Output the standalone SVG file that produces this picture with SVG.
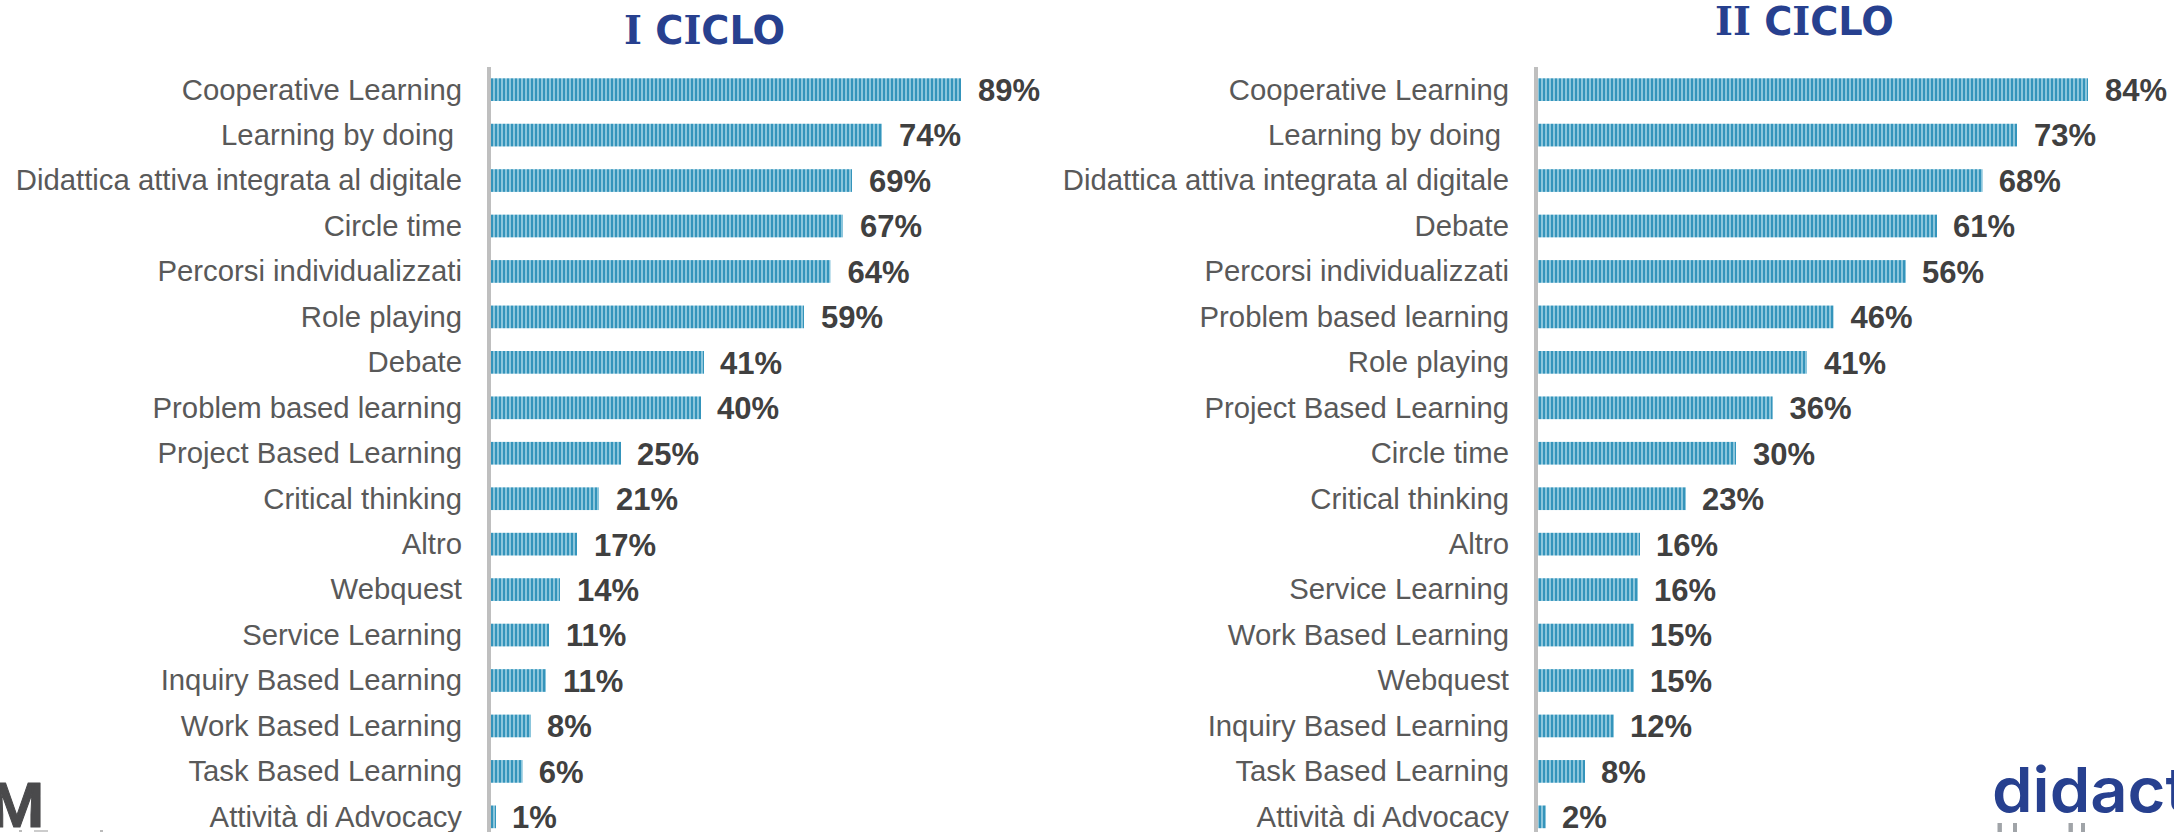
<svg xmlns="http://www.w3.org/2000/svg" width="2174" height="832" viewBox="0 0 2174 832">
<style>
text{font-family:"Liberation Sans",Arial,sans-serif}
.l{font-size:29.3px;fill:#595959;text-anchor:end;transform:translateY(1px)}
.v{font-size:31px;font-weight:700;fill:#404040}
.t{font-family:"DejaVu Sans",sans-serif;font-size:38.3px;font-weight:700;fill:#27408f}
.s{font-family:"DejaVu Serif",serif}
.ax{fill:#bfbfbf}
.b{fill:url(#st);height:22.7px}
</style>
<defs>
<pattern id="st" patternUnits="userSpaceOnUse" x="491" y="0" width="4" height="10">
<rect width="4" height="10" fill="#8cc6dc"/>
<rect width="2" height="10" fill="#3494bb"/>
</pattern>
</defs>
<rect width="2174" height="832" fill="#fff"/>
<g id="title-1"><text class="t" x="624" y="44"><tspan class="s">I</tspan> C<tspan class="s">I</tspan>CLO</text></g>
<g id="title-2"><text class="t" x="1715" y="35"><tspan class="s">II</tspan> C<tspan class="s">I</tspan>CLO</text></g>
<rect id="axis-1" class="ax" x="487" y="67" width="4" height="765"/>
<rect id="axis-2" class="ax" x="1534" y="67" width="4" height="765"/>
<g id="chart-1">
<g id="a0"><text class="l" x="462" y="98.5">Cooperative Learning</text><rect class="b" x="491" y="78.3" width="470"/><text class="v" x="978" y="101">89%</text></g>
<g id="a1"><text class="l" x="454" y="143.95">Learning by doing</text><rect class="b" x="491" y="123.75" width="391"/><text class="v" x="899" y="146.45">74%</text></g>
<g id="a2"><text class="l" x="462" y="189.4">Didattica attiva integrata al digitale</text><rect class="b" x="491" y="169.2" width="361"/><text class="v" x="869" y="191.9">69%</text></g>
<g id="a3"><text class="l" x="462" y="234.85">Circle time</text><rect class="b" x="491" y="214.65" width="352"/><text class="v" x="860" y="237.35">67%</text></g>
<g id="a4"><text class="l" x="462" y="280.3">Percorsi individualizzati</text><rect class="b" x="491" y="260.1" width="339.5"/><text class="v" x="847.5" y="282.8">64%</text></g>
<g id="a5"><text class="l" x="462" y="325.75">Role playing</text><rect class="b" x="491" y="305.55" width="313"/><text class="v" x="821" y="328.25">59%</text></g>
<g id="a6"><text class="l" x="462" y="371.2">Debate</text><rect class="b" x="491" y="351" width="213"/><text class="v" x="720" y="373.7">41%</text></g>
<g id="a7"><text class="l" x="462" y="416.65">Problem based learning</text><rect class="b" x="491" y="396.45" width="210"/><text class="v" x="717" y="419.15">40%</text></g>
<g id="a8"><text class="l" x="462" y="462.1">Project Based Learning</text><rect class="b" x="491" y="441.9" width="130"/><text class="v" x="637" y="464.6">25%</text></g>
<g id="a9"><text class="l" x="462" y="507.55">Critical thinking</text><rect class="b" x="491" y="487.35" width="108"/><text class="v" x="616" y="510.05">21%</text></g>
<g id="a10"><text class="l" x="462" y="553">Altro</text><rect class="b" x="491" y="532.8" width="86"/><text class="v" x="594" y="555.5">17%</text></g>
<g id="a11"><text class="l" x="462" y="598.45">Webquest</text><rect class="b" x="491" y="578.25" width="69"/><text class="v" x="577" y="600.95">14%</text></g>
<g id="a12"><text class="l" x="462" y="643.9">Service Learning</text><rect class="b" x="491" y="623.7" width="58"/><text class="v" x="566" y="646.4">11%</text></g>
<g id="a13"><text class="l" x="462" y="689.35">Inquiry Based Learning</text><rect class="b" x="491" y="669.15" width="55"/><text class="v" x="563" y="691.85">11%</text></g>
<g id="a14"><text class="l" x="462" y="734.8">Work Based Learning</text><rect class="b" x="491" y="714.6" width="40"/><text class="v" x="547" y="737.3">8%</text></g>
<g id="a15"><text class="l" x="462" y="780.25">Task Based Learning</text><rect class="b" x="491" y="760.05" width="31.7"/><text class="v" x="538.7" y="782.75">6%</text></g>
<g id="a16"><text class="l" x="462" y="825.7">Attività di Advocacy</text><rect class="b" x="491" y="805.5" width="5"/><text class="v" x="512" y="828.2">1%</text></g>
</g>
<g id="chart-2">
<g id="c0"><text class="l" x="1509" y="98.5">Cooperative Learning</text><rect class="b" x="1538" y="78.3" width="550"/><text class="v" x="2105" y="101">84%</text></g>
<g id="c1"><text class="l" x="1501" y="143.95">Learning by doing</text><rect class="b" x="1538" y="123.75" width="479"/><text class="v" x="2034" y="146.45">73%</text></g>
<g id="c2"><text class="l" x="1509" y="189.4">Didattica attiva integrata al digitale</text><rect class="b" x="1538" y="169.2" width="444.7"/><text class="v" x="1998.7" y="191.9">68%</text></g>
<g id="c3"><text class="l" x="1509" y="234.85">Debate</text><rect class="b" x="1538" y="214.65" width="399"/><text class="v" x="1953" y="237.35">61%</text></g>
<g id="c4"><text class="l" x="1509" y="280.3">Percorsi individualizzati</text><rect class="b" x="1538" y="260.1" width="368"/><text class="v" x="1922" y="282.8">56%</text></g>
<g id="c5"><text class="l" x="1509" y="325.75">Problem based learning</text><rect class="b" x="1538" y="305.55" width="295.6"/><text class="v" x="1850.6" y="328.25">46%</text></g>
<g id="c6"><text class="l" x="1509" y="371.2">Role playing</text><rect class="b" x="1538" y="351" width="269"/><text class="v" x="1824" y="373.7">41%</text></g>
<g id="c7"><text class="l" x="1509" y="416.65">Project Based Learning</text><rect class="b" x="1538" y="396.45" width="234.6"/><text class="v" x="1789.6" y="419.15">36%</text></g>
<g id="c8"><text class="l" x="1509" y="462.1">Circle time</text><rect class="b" x="1538" y="441.9" width="198"/><text class="v" x="1753" y="464.6">30%</text></g>
<g id="c9"><text class="l" x="1509" y="507.55">Critical thinking</text><rect class="b" x="1538" y="487.35" width="148"/><text class="v" x="1702" y="510.05">23%</text></g>
<g id="c10"><text class="l" x="1509" y="553">Altro</text><rect class="b" x="1538" y="532.8" width="102"/><text class="v" x="1656" y="555.5">16%</text></g>
<g id="c11"><text class="l" x="1509" y="598.45">Service Learning</text><rect class="b" x="1538" y="578.25" width="100"/><text class="v" x="1654" y="600.95">16%</text></g>
<g id="c12"><text class="l" x="1509" y="643.9">Work Based Learning</text><rect class="b" x="1538" y="623.7" width="96"/><text class="v" x="1650" y="646.4">15%</text></g>
<g id="c13"><text class="l" x="1509" y="689.35">Webquest</text><rect class="b" x="1538" y="669.15" width="96"/><text class="v" x="1650" y="691.85">15%</text></g>
<g id="c14"><text class="l" x="1509" y="734.8">Inquiry Based Learning</text><rect class="b" x="1538" y="714.6" width="76"/><text class="v" x="1630" y="737.3">12%</text></g>
<g id="c15"><text class="l" x="1509" y="780.25">Task Based Learning</text><rect class="b" x="1538" y="760.05" width="47"/><text class="v" x="1601" y="782.75">8%</text></g>
<g id="c16"><text class="l" x="1509" y="825.7">Attività di Advocacy</text><rect class="b" x="1538" y="805.5" width="8"/><text class="v" x="1562" y="828.2">2%</text></g>
</g>
<g id="logo-left">
<text x="44" y="827" font-size="62" font-weight="700" fill="#4a4a4c" stroke="#4a4a4c" stroke-width="1" stroke-linejoin="round" text-anchor="end" style="font-family:Roboto,sans-serif">M</text>
<rect x="19" y="830" width="3" height="2" fill="#bbb"/><rect x="34" y="830" width="14" height="2" fill="#ccc"/><rect x="100" y="830" width="3" height="2" fill="#bbb"/>
</g>
<g id="logo-right">
<text transform="translate(1992,812) scale(1.05,1)" x="0" y="0" font-size="62" font-weight="600" fill="#27408f" style="font-family:Inter,sans-serif">didact</text>
<g fill="#a0a4a8"><rect x="1997.5" y="823" width="4.4" height="9"/><rect x="2013" y="823" width="4" height="9"/><rect x="2068.5" y="823" width="4.4" height="9"/><rect x="2081" y="823" width="4" height="9"/></g>
</g>
</svg>
